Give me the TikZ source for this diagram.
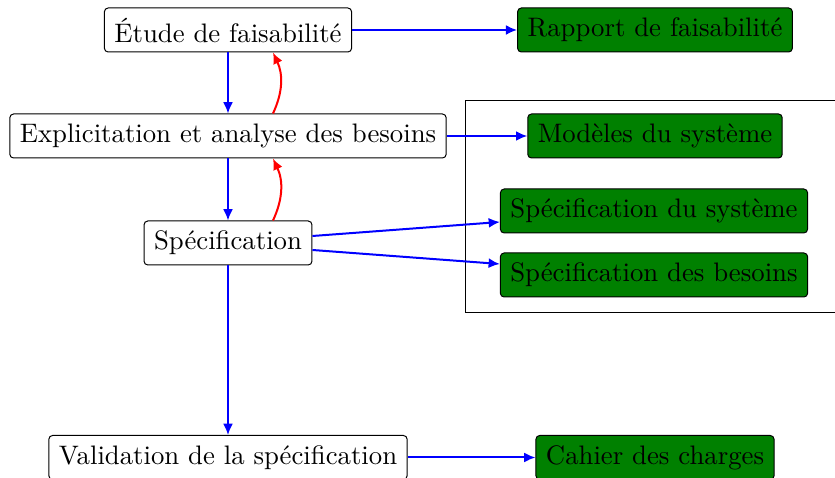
\documentclass[tikz,border=0pt]{standalone}
\usetikzlibrary{arrows.meta}
\definecolor{boxgreen}{RGB}{0,128,0}
\tikzset{
  stepbox/.style={draw, rounded corners=1.5pt, minimum height=17.6pt, inner xsep=4pt, inner ysep=2pt, fill=white, font=\fontsize{10.7}{12}\selectfont},
  docbox/.style={draw, rounded corners=1.5pt, minimum height=17.6pt, inner xsep=4pt, inner ysep=2pt, fill=boxgreen, font=\fontsize{10.7}{12}\selectfont},
  flow/.style={draw=blue, thick, -{Latex[length=4.5pt,width=4pt]}},
  back/.style={draw=red, thick, -{Latex[length=4.5pt,width=4pt]}},
}
\begin{document}
\begin{tikzpicture}[x=0.4pt,y=-0.4pt]
\useasboundingbox (0,0) rectangle (835,478);
\draw (465,101) rectangle (850,313);
\node[stepbox] (etude) at (228,30) {Étude de faisabilité};
\node[stepbox] (expl) at (228,136) {Explicitation et analyse des besoins};
\node[stepbox] (spec) at (228,243) {Spécification};
\node[stepbox] (valid) at (228,457.5) {Validation de la spécification};
\node[docbox] (rapport) at (655,30) {Rapport de faisabilité};
\node[docbox] (modeles) at (655,136) {Modèles du système};
\node[docbox] (specsys) at (654,211) {Spécification du système};
\node[docbox] (specbes) at (654,275) {Spécification des besoins};
\node[docbox] (cahier) at (655,457.5) {Cahier des charges};
\draw[flow] (etude) -- (rapport);
\draw[flow] (expl) -- (modeles);
\draw[flow] (valid) -- (cahier);
\draw[flow] (etude) -- (expl);
\draw[flow] (expl) -- (spec);
\draw[flow] (spec) -- (valid);
\draw[flow] ([yshift=2.8pt]spec.east) -- ([yshift=-4.4pt]specsys.west);
\draw[flow] ([yshift=-2.8pt]spec.east) -- ([yshift=4.4pt]specbes.west);
\draw[back] ([xshift=18pt]spec.north) to[bend right=25] ([xshift=18pt]expl.south);
\draw[back] ([xshift=18pt]expl.north) to[bend right=25] ([xshift=18pt]etude.south);
\end{tikzpicture}
\end{document}
